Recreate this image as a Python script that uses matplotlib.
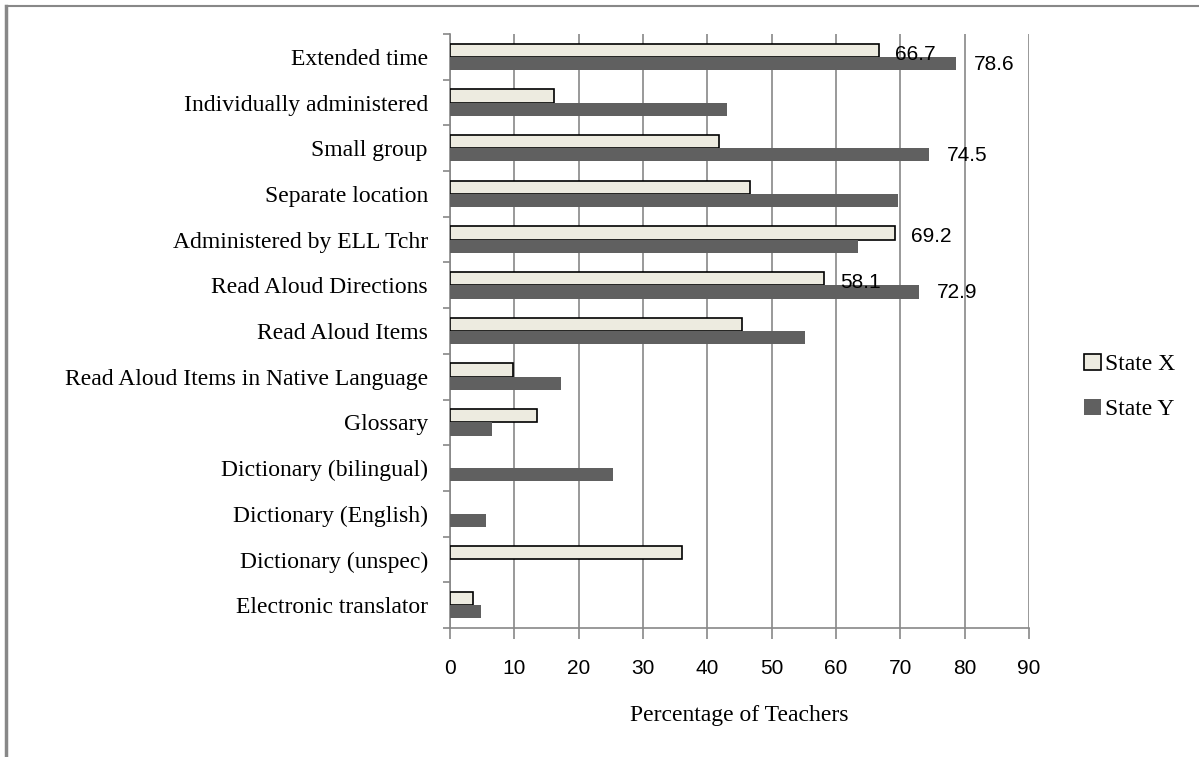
import matplotlib.pyplot as plt
from matplotlib.patches import Patch
from matplotlib.lines import Line2D
import numpy as np

# accommodation categories, top to bottom
categories = ['Extended time', 'Individually administered', 'Small group',
              'Separate location', 'Administered by ELL Tchr',
              'Read Aloud Directions', 'Read Aloud Items',
              'Read Aloud Items in Native Language', 'Glossary',
              'Dictionary (bilingual)', 'Dictionary (English)',
              'Dictionary (unspec)', 'Electronic translator']

state_x = [66.7, 16.2, 41.8, 46.6, 69.2, 58.1, 45.4, 9.8, 13.6, 0, 0, 36.1, 3.5]
state_y = [78.6, 43.1, 74.5, 69.7, 63.4, 72.9, 55.2, 17.2, 6.6, 25.3, 5.6, 0, 4.8]

# only a few bars carry a value label in the original
labels_x = ['66.7', None, None, None, '69.2', '58.1', None, None, None, None, None, None, None]
labels_y = ['78.6', None, '74.5', None, None, '72.9', None, None, None, None, None, None, None]

xticks = [0, 10, 20, 30, 40, 50, 60, 70, 80, 90]

grey = '#888888'
serif = 'Liberation Serif'
sans = 'Liberation Sans'

fig = plt.figure(figsize=(11.99, 7.57), dpi=100)
ax = fig.add_axes([0.3753, 0.1704, 0.4829, 0.7847])

pos = np.arange(len(categories))
h = 0.29
# no outline on empty (zero) bars
edge_w = [1.2 if v > 0 else 0 for v in state_x]
ax.barh(pos - h / 2, state_x, height=h, color='#EDEBE0', edgecolor='black',
        linewidth=edge_w, label='State X', zorder=3)
ax.barh(pos + h / 2, state_y, height=h, color='#606060', label='State Y', zorder=3)

for i in range(len(categories)):
    if labels_x[i]:
        ax.annotate(labels_x[i], (state_x[i], pos[i] - h / 2), xytext=(16, -4),
                    textcoords='offset pixels', va='center', ha='left',
                    fontsize=15, family=sans, zorder=4)
    if labels_y[i]:
        ax.annotate(labels_y[i], (state_y[i], pos[i] + h / 2), xytext=(18, -1),
                    textcoords='offset pixels', va='center', ha='left',
                    fontsize=15, family=sans, zorder=4)

ax.set_xlim(0, 90)
ax.set_ylim(len(categories) - 0.5, -0.5)
ax.set_xticks(xticks)
ax.set_xticklabels([str(t) for t in xticks], fontsize=15, family=sans)
ax.set_yticks(pos)
ax.set_yticklabels(categories, fontsize=17, family=serif)
ax.set_yticks(np.arange(len(categories) + 1) - 0.5, minor=True)
ax.tick_params(axis='y', which='major', length=0, pad=16)
ax.tick_params(axis='y', which='minor', length=5, width=1.2, color=grey)
ax.tick_params(axis='x', length=8, width=1.2, color=grey, pad=14)
ax.grid(axis='x', color=grey, linewidth=1.2, zorder=0)

for side in ['top', 'right']:
    ax.spines[side].set_visible(False)
for side in ['left', 'bottom']:
    ax.spines[side].set_color(grey)
    ax.spines[side].set_linewidth(1.2)

ax.set_xlabel('Percentage of Teachers', fontsize=17, family=serif, labelpad=20)

handles = [Patch(facecolor='#EDEBE0', edgecolor='black', linewidth=1.2),
           Patch(facecolor='#606060')]
fig.legend(handles, ['State X', 'State Y'], loc='center left',
           bbox_to_anchor=(1084 / 1199, 1 - 387 / 757), frameon=False,
           borderpad=0, borderaxespad=0,
           prop={'family': serif, 'size': 17}, handlelength=0.7,
           handleheight=0.7, handletextpad=0.2, labelspacing=1.0)

# outer chart frame (only left and top edges show in the crop)
fig.add_artist(Line2D([6 / 1199, 6 / 1199], [0, 1 - 6 / 757], color=grey, linewidth=2.5))
fig.add_artist(Line2D([6 / 1199, 1], [1 - 6 / 757, 1 - 6 / 757], color=grey, linewidth=1.5))

fig.savefig('out.png', dpi=100)
